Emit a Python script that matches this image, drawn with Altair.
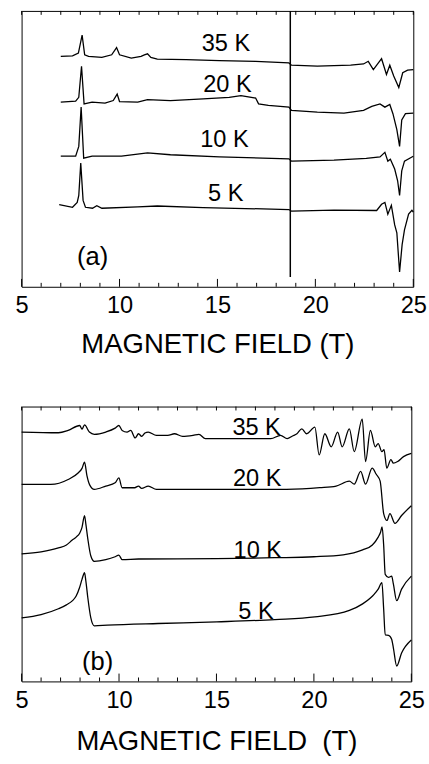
import altair as alt
import pandas as pd

FONT = "Liberation Sans"

# ---------------- Panel (a) data (field in T, signal in arb. units) ----------------
a35_T = [7.0, 7.6, 7.9, 8.09, 8.22, 8.42, 9.1, 9.6, 9.85, 10.0, 10.6, 11.1, 11.27, 11.43, 11.6, 11.93,
         13.4, 15.1, 16.95, 18.65, 18.78, 20.1, 21.8, 22.46, 22.7, 22.96, 23.38, 23.63, 23.8, 24.0,
         24.26, 24.46, 24.71, 25.0]
a35_S = [234.7, 235.3, 238, 256.3, 236.3, 234.7, 233.7, 236.3, 243.7, 236.3, 233, 234.7, 236.3, 237.3,
         233.7, 232, 231.3, 230.3, 229.7, 228, 225.7, 224.7, 225.7, 227, 229.7, 221.3, 232.3, 216.3,
         225.7, 214.7, 203, 218, 220.7, 221.3]

a20_T = [7.0, 7.76, 7.92, 8.06, 8.19, 8.6, 9.26, 9.68, 9.88, 10.0, 10.93, 11.43, 12.6, 14.27, 15.6, 16.2,
         16.95, 17.1, 17.6, 18.65, 18.78, 20.1, 21.46, 22.46, 22.88, 23.3, 23.55, 23.8, 23.96, 24.16,
         24.3, 24.41, 24.6, 25.0]
a20_S = [188, 189, 193, 224.7, 186.3, 188, 187, 189.7, 196.3, 188.7, 188, 190.7, 189.7, 191.3, 193,
         194.7, 192.3, 186.3, 184.7, 183, 179.7, 178, 177, 179.7, 183.7, 186.3, 183, 185.7, 176.3, 160,
         143, 170, 176.3, 177]

a10_T = [7.0, 7.76, 7.92, 8.04, 8.17, 8.6, 10.1, 11.43, 12.6, 15.1, 18.65, 18.78, 20.95, 22.6, 23.3,
         23.55, 23.7, 23.83, 24.05, 24.2, 24.3, 24.41, 24.55, 25.0]
a10_S = [133, 133, 143, 183, 131, 133, 133, 136.5, 134.5, 132.3, 130.3, 128, 129, 130.7, 132.3, 137,
         128, 130, 120, 108, 93, 118, 128, 133]

a5_T = [6.92, 7.6, 7.84, 7.92, 8.02, 8.14, 8.26, 8.62, 8.84, 9.1, 10.93, 11.93, 14.27, 18.65, 18.78,
        20.95, 23.13, 23.38, 23.55, 23.7, 23.88, 24.05, 24.16, 24.3, 24.43, 24.55, 24.76, 24.93, 25.0]
a5_S = [83.7, 81, 86, 93, 126, 88, 81, 80, 82.5, 80, 81.3, 82.3, 80.7, 78.7, 77, 78, 77.7, 84, 86, 74,
        83, 63, 55, 15, 43, 58, 74, 78, 76]

a_label_text = ["35 K", "20 K", "10 K", "5 K"]
a_label_T = [15.43, 15.51, 15.36, 15.42]
a_label_S = [247, 205.8, 149, 94.7]

a_vline_T = [18.72]
a_vline_lo = [10]
a_vline_hi = [281]

# ---------------- Panel (b) data ----------------
b35_T = [5.0, 6.89, 7.39, 7.98, 8.1, 8.23, 8.48, 8.73, 9.32, 9.8, 9.99, 10.16, 10.41, 10.6, 10.83, 11.0,
         11.16, 11.33, 11.5, 11.92, 12.5, 12.84, 13.26, 13.8, 14.1, 14.43, 16.0, 17.79, 18.29, 18.63,
         18.9, 19.13, 19.38, 19.63, 20.05, 20.27, 20.56, 20.89, 21.22, 21.45, 21.82, 22.07, 22.48,
         22.65, 22.9, 23.15, 23.3, 23.49, 23.6, 23.74, 23.95, 24.08, 24.3, 24.6, 25.0]
b35_S = [254, 253.3, 255.7, 260.7, 257, 261.3, 254, 251.7, 254, 258, 260.7, 255.7, 254, 255.7, 248,
         252.3, 249.7, 253, 254, 250.7, 250.7, 252.3, 249.7, 250.7, 251.7, 247.3, 247.3, 247.3, 250.7,
         247.3, 250, 252.3, 257.3, 252.3, 259, 230.7, 252.3, 239, 254, 239, 257.3, 234, 267.3, 224,
         255.7, 239, 242.3, 234, 236, 217.3, 226, 222.3, 224, 229, 232.3]

b20_T = [5.0, 6.5, 7.39, 7.9, 8.1, 8.23, 8.35, 8.5, 8.73, 9.32, 9.8, 9.99, 10.16, 10.8, 11.0, 11.16, 11.5,
         11.92, 15.0, 18.6, 20.3, 21.14, 21.82, 22.07, 22.4, 22.65, 22.99, 23.2, 23.4, 23.58, 23.75,
         23.9, 24.16, 24.5, 25.0]
b20_S = [200.7, 200.7, 205.7, 212.3, 217, 223.3, 210, 200, 195.7, 199, 202.3, 207.3, 197.3, 197.3, 199,
         196.7, 199, 195.7, 195.7, 195.7, 197.3, 199, 204, 201, 214, 201, 217.3, 211, 204, 171, 164,
         171, 161, 169, 179]

b10_T = [5.0, 6.0, 6.89, 7.3, 7.6, 7.8, 7.98, 8.1, 8.23, 8.3, 8.4, 8.55, 8.73, 9.32, 9.8, 9.99, 10.16,
         11.0, 15.0, 18.0, 20.0, 21.5, 22.5, 23.0, 23.3, 23.42, 23.5, 23.58, 23.66, 23.83, 23.99, 24.08,
         24.25, 24.5, 25.0]
b10_S = [130, 132, 136, 139, 144, 147, 151, 157, 169, 160, 145, 128, 122.3, 124, 127, 128.7, 124,
         124.7, 125, 126, 127, 129, 134, 139, 147, 152, 157.3, 139, 109, 106, 107.3, 99, 82.3, 94,
         107.3]

b5_T = [5.0, 6.0, 6.89, 7.3, 7.6, 7.8, 7.98, 8.1, 8.23, 8.3, 8.4, 8.55, 8.73, 9.4, 12.0, 15.02, 18.0,
        20.05, 21.82, 22.5, 22.9, 23.1, 23.3, 23.49, 23.58, 23.66, 23.83, 23.99, 24.08, 24.25, 24.5, 25.0]
b5_S = [64.7, 68, 74, 78, 82, 87, 96, 104, 110.7, 102, 85, 65, 56.7, 57.3, 59, 60.7, 63, 65.7, 72.3, 79,
        85, 89, 94, 100.7, 74, 47.3, 47, 43, 34, 15.7, 29, 42.3]

b_label_text = ["35 K", "20 K", "10 K", "5 K"]
b_label_T = [17.06, 17.09, 17.12, 17.03]
b_label_S = [257.7, 206.2, 132.3, 70.8]

major_ticks = [5, 10, 15, 20, 25]
minor_ticks = [6, 7, 8, 9, 11, 12, 13, 14, 16, 17, 18, 19, 21, 22, 23, 24]
all_ticks = list(range(5, 26))


def traces_df(series):
    rows = []
    for name, ts, ss in series:
        for t, s in zip(ts, ss):
            rows.append({"T": t, "S": s, "series": name})
    return pd.DataFrame(rows)


def panel(series, lab_text, lab_T, lab_S, tag, tag_T, tag_S, W, H, title, label_pad, title_y,
          interp="linear", vline=None):
    xs = alt.Scale(domain=[5, 25], nice=False, zero=False)
    ys = alt.Scale(domain=[0, H], nice=False, zero=False)
    xaxis = alt.Axis(values=major_ticks, format="d", ticks=False, tickSize=0, domain=False, grid=False,
                     labelFont=FONT, labelFontSize=24, labelColor="black", labelPadding=label_pad,
                     labelBaseline="alphabetic", labelOverlap=False, labelFlush=False,
                     title=title, titleFont=FONT, titleFontSize=28, titleFontWeight="normal",
                     titleColor="black", titleBaseline="alphabetic", titleY=title_y)
    df = traces_df(series)
    lines = alt.Chart(df).mark_line(color="black", strokeWidth=1.3, interpolate=interp).encode(
        x=alt.X("T:Q", scale=xs, axis=xaxis),
        y=alt.Y("S:Q", scale=ys, axis=None),
        detail="series:N",
        order="T:Q",
    )
    labels = alt.Chart(pd.DataFrame({"T": lab_T, "S": lab_S, "txt": lab_text})).mark_text(
        font=FONT, fontSize=24, color="black", align="center", baseline="middle"
    ).encode(x=alt.X("T:Q", scale=xs), y=alt.Y("S:Q", scale=ys), text="txt:N")
    tagm = alt.Chart(pd.DataFrame({"T": [tag_T], "S": [tag_S], "txt": [tag]})).mark_text(
        font=FONT, fontSize=26, color="black", align="center", baseline="middle"
    ).encode(x=alt.X("T:Q", scale=xs), y=alt.Y("S:Q", scale=ys), text="txt:N")
    bmaj = alt.Chart(pd.DataFrame({"T": major_ticks})).mark_rule(color="black", strokeWidth=1).encode(
        x=alt.X("T:Q", scale=xs), y=alt.value(H), y2=alt.value(H - 8))
    bmin = alt.Chart(pd.DataFrame({"T": minor_ticks})).mark_rule(color="black", strokeWidth=1).encode(
        x=alt.X("T:Q", scale=xs), y=alt.value(H), y2=alt.value(H - 4))
    top = alt.Chart(pd.DataFrame({"T": all_ticks})).mark_rule(color="black", strokeWidth=1).encode(
        x=alt.X("T:Q", scale=xs), y=alt.value(0), y2=alt.value(4))
    layers = [lines, labels, tagm, bmaj, bmin, top]
    if vline is not None:
        vt, vlo, vhi = vline
        vl = alt.Chart(pd.DataFrame({"T": vt, "lo": vlo, "hi": vhi})).mark_rule(
            color="black", strokeWidth=1.5).encode(
            x=alt.X("T:Q", scale=xs), y=alt.Y("lo:Q", scale=ys), y2="hi:Q")
        layers.append(vl)
    return alt.layer(*layers).properties(width=W, height=H)


pa = panel([("35 K", a35_T, a35_S), ("20 K", a20_T, a20_S), ("10 K", a10_T, a10_S), ("5 K", a5_T, a5_S)],
           a_label_text, a_label_T, a_label_S, "(a)", 8.63, 29.7, 399, 281,
           "MAGNETIC FIELD (T)", 26, 67, vline=(a_vline_T, a_vline_lo, a_vline_hi))
pb = panel([("35 K", b35_T, b35_S), ("20 K", b20_T, b20_S), ("10 K", b10_T, b10_S), ("5 K", b5_T, b5_S)],
           b_label_text, b_label_T, b_label_S, "(b)", 8.9, 19.8, 397, 280,
           "MAGNETIC FIELD\u00a0 (T)", 27, 69, interp="monotone")

chart = alt.vconcat(pa, pb, spacing=47).properties(
    padding={"left": 14, "top": 2, "right": 2, "bottom": 2},
    background="white",
).configure_view(stroke="black", strokeWidth=1)

chart.save("out.html", embed_options={"renderer": "svg", "actions": False})
